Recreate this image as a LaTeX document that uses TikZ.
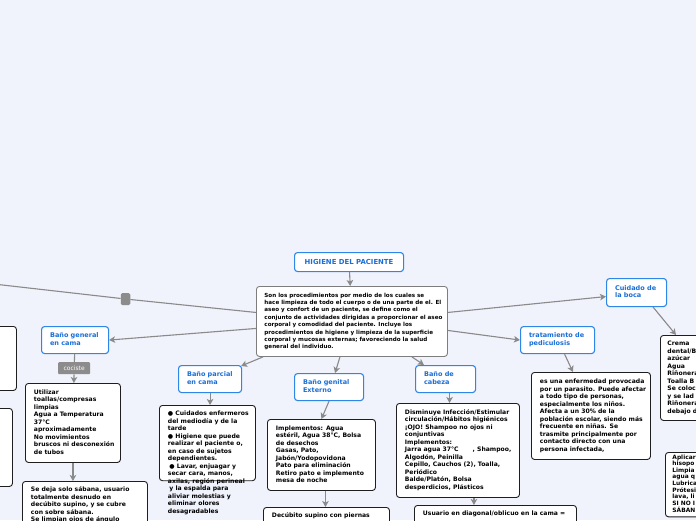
\documentclass[tikz,border=0pt]{standalone}
\usepackage{fontspec}
\setmainfont{DejaVu Sans}
\usetikzlibrary{arrows.meta,calc}
\definecolor{bg}{RGB}{240,242,252}
\definecolor{bluebd}{RGB}{46,134,230}
\definecolor{bluetx}{RGB}{26,110,215}
\definecolor{conncol}{RGB}{138,138,138}
\definecolor{mainbd}{RGB}{125,125,125}
\definecolor{boxbd}{RGB}{30,30,30}
\definecolor{tagfill}{RGB}{140,140,140}
\newcommand{\tl}[2]{\makebox[#1][l]{\begin{tabular}[t]{@{}l@{}}#2\end{tabular}}}
\tikzset{
 title/.style={draw=bluebd, line width=1.1pt, fill=white, rounded corners=3pt, text=bluetx,
   font=\fontsize{6.5}{7.6}\selectfont\bfseries, anchor=north west, inner xsep=8.5pt, inner ysep=0pt},
 body/.style={draw=boxbd, line width=0.9pt, fill=white, rounded corners=3pt,
   font=\fontsize{6.1}{7.5}\selectfont\bfseries, anchor=north west, inner xsep=8.5pt, inner ysep=5pt},
 mainbox/.style={body, draw=mainbd, inner xsep=8pt, font=\fontsize{5.6}{7.4}\selectfont\bfseries},
 conn/.style={draw=conncol, line width=1.1pt},
 arr/.style={conn, -{Stealth[length=6pt,width=6.5pt,inset=1.5pt]}},
 tag/.style={fill=tagfill, text=white, rounded corners=1pt, font=\fontsize{6}{7}\selectfont,
   anchor=north west, inner sep=0pt, minimum width=32pt, minimum height=12pt},
}
\begin{document}
\begin{tikzpicture}[x=1pt,y=-1pt]
\useasboundingbox (0,0) rectangle (696,520);
\fill[bg] (0,0) rectangle (696,520);
\clip (0,0) rectangle (696,520);

% left cut-off boxes
\node[body, minimum width=40pt, minimum height=64pt] (lb1) at (-24,326) {};
\node[body, minimum width=36pt, minimum height=78pt] (lb2) at (-24,408) {};

% central nodes
\node[title, minimum width=109pt, minimum height=19pt, inner xsep=0pt,
  font=\fontsize{6.9}{8}\selectfont\bfseries] (hig) at (294,252) {HIGIENE DEL PACIENTE};
\node[mainbox, minimum height=70pt] (main) at (256,286) {\tl{175pt}{%
Son los procedimientos por medio de los cuales se\\
hace limpieza de todo el cuerpo o de una parte de el. El\\
aseo y confort de un paciente, se define como el\\
conjunto de actividades dirigidas a proporcionar el aseo\\
corporal y comodidad del paciente. Incluye los\\
procedimientos de higiene y limpieza de la superficie\\
corporal y mucosas externas; favoreciendo la salud\\
general del individuo.}};

\node[fill=tagfill, rounded corners=1.5pt, minimum width=9.5pt, minimum height=12pt, inner sep=0pt] (sq) at (125.5,299) {};

% Baño general
\node[title, minimum height=27pt] (bgen) at (41,326) {\tl{50pt}{Baño general\\en cama}};
\node[tag] (coc) at (58,362) {cociste};
\node[body, minimum height=79pt] (util) at (25,383) {\tl{78pt}{%
Utilizar\\
toallas/compresas\\
limpias\\
Agua a Temperatura\\
37°C\\
aproximadamente\\
No movimientos\\
bruscos ni desconexión\\
de tubos}};
\node[body, text depth=60pt] (sedeja) at (22,481) {\tl{108pt}{%
Se deja solo sábana, usuario\\
totalmente desnudo en\\
decúbito supino, y se cubre\\
con sobre sábana.\\
Se limpian ojos de ángulo}};

% Baño parcial
\node[title, minimum height=27pt] (parc) at (178,365) {\tl{46pt}{Baño parcial\\en cama}};
\node[body, text depth=60pt] (parcb) at (159,405) {\tl{79pt}{%
● Cuidados enfermeros\\
del mediodía y de la\\
tarde\\
● Higiene que puede\\
realizar el paciente o,\\
en caso de sujetos\\
dependientes.\\
\hspace{1.5pt}● Lavar, enjuagar y\\
secar cara, manos,\\
axilas, región perineal\\
\hspace{1.5pt}y la espalda para\\
aliviar molestias y\\
eliminar olores\\
desagradables}};

% Baño genital
\node[title, minimum height=27pt] (gen) at (294,373) {\tl{52pt}{Baño genital\\Externo}};
\node[body, minimum height=71pt] (impl) at (267,419) {\tl{91pt}{%
Implementos: Agua\\
estéril, Agua 38°C, Bolsa\\
de desechos\\
Gasas, Pato,\\
Jabón/Yodopovidona\\
Pato para eliminación\\
Retiro pato e implemento\\
mesa de noche}};
\node[body, text depth=40pt] (decub) at (263,507) {\tl{109pt}{Decúbito supino con piernas}};

% Baño de cabeza
\node[title, minimum height=27pt] (cab) at (415,365) {\tl{43pt}{Baño de\\cabeza}};
\node[body, minimum height=94pt] (dism) at (396,403) {\tl{106pt}{%
Disminuye Infección/Estimular\\
circulación/Hábitos higiénicos\\
¡OJO! Shampoo no ojos ni\\
conjuntivas\\
Implementos:\\
Jarra agua 37°C\hspace{14pt}, Shampoo,\\
Algodón, Peinilla\\
Cepillo, Cauchos (2), Toalla,\\
Periódico\\
Balde/Platón, Bolsa\\
desperdicios, Plásticos}};
\node[body, text depth=40pt] (usu) at (414,505) {\tl{145pt}{Usuario en diagonal/oblicuo en la cama =}};

% pediculosis
\node[title, minimum height=27pt] (trat) at (520,326) {\tl{57pt}{tratamiento de\\pediculosis}};
\node[body, minimum height=87pt] (enf) at (531,372) {\tl{102pt}{%
es una enfermedad provocada\\
por un parasito. Puede afectar\\
a todo tipo de personas,\\
especialmente los niños.\\
Afecta a un 30\% de la\\
población escolar, siendo más\\
frecuente en niñas. Se\\
trasmite principalmente por\\
contacto directo con una\\
persona infectada,}};

% boca
\node[title, minimum height=28pt] (boca) at (606,278) {\tl{43pt}{Cuidado de\\la boca}};
\node[body, inner xsep=7pt, minimum height=85pt] (crema) at (660,335) {\tl{50pt}{%
Crema\\
dental/B\\
azúcar\\
Agua\\
Riñonera\\
Toalla B\\
Se coloc\\
y se lad\\
Riñonera\\
debajo d}};
\node[body, inner xsep=7pt, inner ysep=2pt, minimum height=63pt,
  font=\fontsize{5.9}{6.6}\selectfont\bfseries] (aplic) at (665,452) {\tl{50pt}{%
Aplicar\\
hisopo\\
Limpia\\
agua q\\
Lubrica\\
Prótesi\\
lava, li\\
SI NO I\\
SÁBAN}};

% connectors
\coordinate (lstart) at (-2,284.5);
\draw[conn] (lstart) -- (sq) -- ([yshift=9pt]main.west);
\draw[arr] (hig) -- (main);
\draw[arr] ([yshift=-7pt]main.west) -- (bgen.east);
\draw[conn] (bgen) -- (coc);
\draw[arr] (coc) -- (util);
\draw[arr] (util.south) -- (util.south |- sedeja.north);
\draw[arr] ([xshift=7pt]main.south west) -- ([xshift=-1pt,yshift=-1pt]parc.north east);
\draw[arr] (parc.south) -- (parc.south |- parcb.north);
\draw[arr] ([xshift=-12pt]main.south) -- ([xshift=6pt]gen.north);
\draw[arr] (gen.south) -- (impl.north);
\draw[arr] ([xshift=4pt]impl.south) -- ([xshift=4pt]impl.south |- decub.north);
\draw[arr] ([xshift=60pt]main.south) -- ([xshift=9pt]cab.north west);
\draw[arr] ([xshift=4pt]cab.south) -- ([xshift=4pt]cab.south |- dism.north);
\draw[arr] ([xshift=16pt]dism.south) -- ([xshift=16pt]dism.south |- usu.north);
\draw[arr] ([yshift=-9pt]main.east) -- (trat.west);
\draw[arr] ([xshift=7pt]trat.south) -- ([xshift=-18pt]enf.north);
\draw[arr] ([yshift=9pt]main.east) -- ([yshift=-4pt]boca.west);
\draw[arr] ([xshift=-14pt]boca.south east) -- ([xshift=16pt]crema.north west);
\end{tikzpicture}
\end{document}
